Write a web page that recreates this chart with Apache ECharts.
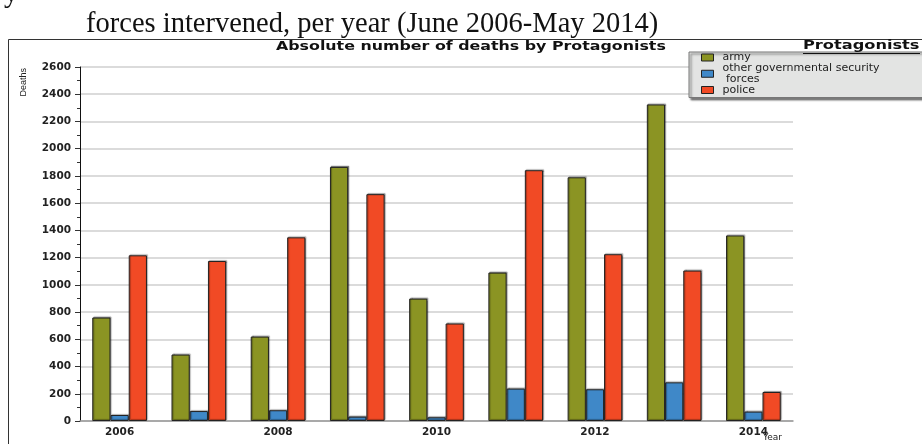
<!DOCTYPE html>
<html>
<head>
<meta charset="utf-8">
<script src="https://cdn.jsdelivr.net/npm/echarts@6/dist/echarts.min.js"></script>
<style>
  html, body { margin: 0; padding: 0; background: #fff; }
  #chart { width: 922px; height: 444px; }
</style>
</head>
<body>
<div id="chart"></div>
<script>
// years along the x axis
const years = ['2006', '2007', '2008', '2009', '2010', '2011', '2012', '2013', '2014']
// deaths per protagonist
const army = [760, 488, 620, 1866, 899, 1090, 1790, 2325, 1363]
const otherForces = [44, 73, 79, 32, 27, 238, 233, 284, 69]
const police = [1217, 1175, 1349, 1666, 716, 1842, 1225, 1105, 213]

const seriesNames = ['army', 'other governmental security\n forces', 'police']
const colors = ['#8b9423', '#3f88c8', '#f14a25']

const labelFont = {
  color: '#222',
  fontFamily: 'DejaVu Sans',
  fontSize: 10.5,
  fontWeight: 'bold'
}

function barSeries (name, data, color) {
  return {
    name: name,
    type: 'bar',
    data: data,
    barGap: '0%',
    barCategoryGap: '31%',
    itemStyle: {
      color: color,
      borderColor: '#222',
      borderWidth: 1,
      shadowColor: 'rgba(0,0,0,0.35)',
      shadowOffsetX: 1,
      shadowOffsetY: -1,
      shadowBlur: 1
    }
  }
}

const chart = echarts.init(document.getElementById('chart'))
chart.setOption({
  animation: false,
  color: colors,
  grid: { left: 80, right: 129, top: 67, bottom: 23 },
  legend: {
    orient: 'vertical',
    left: 689,
    top: 52,
    itemWidth: 12,
    itemHeight: 7,
    itemGap: 0,
    padding: [0, 70, 2, 12],
    backgroundColor: '#e3e4e3',
    borderColor: '#777',
    borderWidth: 1,
    shadowColor: 'rgba(0,0,0,0.5)',
    shadowOffsetX: 2,
    shadowOffsetY: 2,
    shadowBlur: 2,
    icon: 'rect',
    itemStyle: { borderColor: '#222', borderWidth: 1 },
    textStyle: {
      color: '#222',
      fontFamily: 'DejaVu Sans',
      fontSize: 11,
      lineHeight: 10.5,
      padding: [0, 0, 0, 4]
    },
    data: seriesNames
  },
  xAxis: {
    type: 'category',
    data: years,
    axisLine: { lineStyle: { color: '#999', width: 1.5 } },
    axisTick: { interval: 1, length: 5, inside: true, lineStyle: { color: '#333' } },
    axisLabel: Object.assign({ interval: 1, margin: 6 }, labelFont)
  },
  yAxis: {
    type: 'value',
    min: 0,
    max: 2600,
    interval: 200,
    axisLine: { show: true, lineStyle: { color: '#111', width: 1 } },
    axisTick: { show: true, length: 5, lineStyle: { color: '#333' } },
    minorTick: { show: true, splitNumber: 2, length: 3, lineStyle: { color: '#333' } },
    splitLine: { lineStyle: { color: '#cfcfcf', width: 1.5 } },
    axisLabel: Object.assign({ margin: 9, formatter: v => String(v) }, labelFont)
  },
  series: [
    barSeries(seriesNames[0], army, colors[0]),
    barSeries(seriesNames[1], otherForces, colors[1]),
    barSeries(seriesNames[2], police, colors[2])
  ],
  graphic: [
    {
      type: 'text',
      left: 4,
      top: -20,
      style: { text: 'y', fontFamily: 'Liberation Serif', fontSize: 28.5, fill: '#111' }
    },
    {
      type: 'text',
      left: 86,
      top: 10,
      style: {
        text: 'forces intervened, per year (June 2006-May 2014)',
        fontFamily: 'Liberation Serif',
        fontSize: 28.5,
        fill: '#111'
      }
    },
    {
      type: 'rect',
      shape: { x: 8.5, y: 39.5, width: 930, height: 420 },
      style: { fill: 'none', stroke: '#333', lineWidth: 1 },
      z: -1
    },
    {
      type: 'text',
      x: 276,
      y: 41,
      scaleX: 1.32,
      style: {
        text: 'Absolute number of deaths by Protagonists',
        fontFamily: 'DejaVu Sans',
        fontWeight: 'bold',
        fontSize: 12,
        fill: '#111'
      }
    },
    {
      type: 'text',
      x: 803,
      y: 40,
      scaleX: 1.35,
      z: 200,
      style: {
        text: 'Protagonists',
        fontFamily: 'DejaVu Sans',
        fontWeight: 'bold',
        fontSize: 12,
        fill: '#111'
      }
    },
    {
      type: 'line',
      z: 200,
      shape: { x1: 803, y1: 53.5, x2: 920, y2: 53.5 },
      style: { stroke: '#111', lineWidth: 1 }
    },
    {
      type: 'text',
      left: 19,
      top: 68,
      rotation: Math.PI / 2,
      style: {
        text: 'Deaths',
        fontFamily: 'Liberation Sans',
        fontSize: 9,
        fill: '#222'
      }
    },
    {
      type: 'text',
      left: 763,
      top: 433,
      style: {
        text: 'Year',
        fontFamily: 'DejaVu Sans',
        fontSize: 9,
        fill: '#222'
      }
    }
  ]
})
</script>
</body>
</html>
